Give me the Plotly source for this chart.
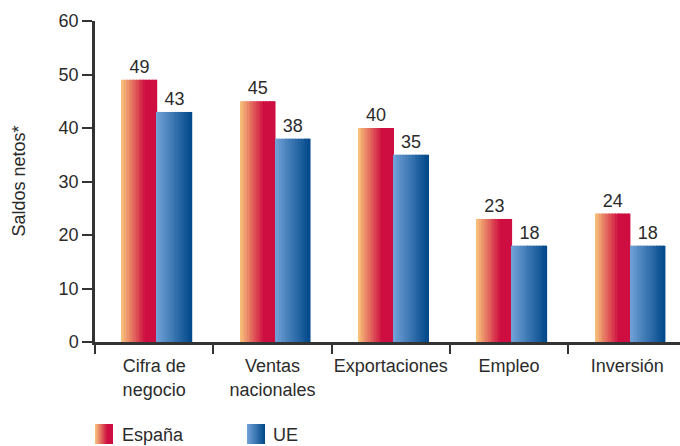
import base64
import plotly.graph_objects as go

# ---- data ----
categorias = ["Cifra de negocio", "Ventas nacionales", "Exportaciones", "Empleo", "Inversión"]
etiquetas_x = ["Cifra de<br>negocio", "Ventas<br>nacionales", "Exportaciones", "Empleo", "Inversión"]
espana = [49, 45, 40, 23, 24]
ue = [43, 38, 35, 18, 18]
series_nombres = ["España", "UE"]
y_ticks = [0, 10, 20, 30, 40, 50, 60]

# ---- style ----
FONT = "Liberation Sans, Arial, sans-serif"
TXT = "#2b2b2b"
AX = "#333333"
FS = 18
N = 24
BAR_W = 0.296
OFF_ES = -0.272
OFF_UE = 0.024

ES_C0, ES_C1, ES_STOP = (248, 197, 124), (206, 14, 64), 0.68
UE_C0, UE_C1, UE_STOP = (114, 162, 216), (0, 72, 138), 1.0


def lerp(c0, c1, t):
    return "rgb(%d,%d,%d)" % tuple(round(a + (b - a) * t) for a, b in zip(c0, c1))


fig = go.Figure()


def add_gradient_bars(values, off, c0, c1, stop, name):
    sw = BAR_W / N
    for i in range(N):
        t = (i + 0.5) / N
        tt = min(t / stop, 1.0)
        fig.add_trace(go.Bar(
            x=categorias, y=values, name=name, showlegend=False,
            offset=off + i * sw, width=sw * 1.15,
            marker=dict(color=lerp(c0, c1, tt), line=dict(width=0)),
            hoverinfo="skip",
        ))
    # label trace (transparent)
    fig.add_trace(go.Bar(
        x=categorias, y=values, name=name, showlegend=False,
        offset=off, width=BAR_W,
        marker=dict(color="rgba(0,0,0,0)", line=dict(width=0)),
        text=[str(v) for v in values], textposition="outside",
        textfont=dict(family=FONT, size=FS, color=TXT),
        cliponaxis=False,
    ))


add_gradient_bars(espana, OFF_ES, ES_C0, ES_C1, ES_STOP, series_nombres[0])
add_gradient_bars(ue, OFF_UE, UE_C0, UE_C1, UE_STOP, series_nombres[1])


def swatch(c0, c1, stop):
    svg = (
        '<svg xmlns="http://www.w3.org/2000/svg" width="18" height="20">'
        '<defs><linearGradient id="g" x1="0" x2="1" y1="0" y2="0">'
        f'<stop offset="0" stop-color="{lerp(c0, c1, 0)}"/>'
        f'<stop offset="{stop}" stop-color="{lerp(c0, c1, 1)}"/>'
        f'<stop offset="1" stop-color="{lerp(c0, c1, 1)}"/>'
        '</linearGradient></defs><rect width="18" height="20" fill="url(#g)"/></svg>'
    )
    return "data:image/svg+xml;base64," + base64.b64encode(svg.encode()).decode()


PL, PT, PW, PH = 95, 21, 585, 321


def px2x(px):
    return (px - PL) / PW


def py2y(py):
    return (PT + PH - py) / PH


images = []
for (c0, c1, stop), xpx in [((ES_C0, ES_C1, ES_STOP), 95), ((UE_C0, UE_C1, UE_STOP), 247)]:
    images.append(dict(
        source=swatch(c0, c1, stop), xref="paper", yref="paper",
        x=px2x(xpx), y=py2y(424), sizex=18 / PW, sizey=20 / PH,
        xanchor="left", yanchor="top", sizing="stretch", layer="above",
    ))

annotations = [
    dict(text=series_nombres[0], xref="paper", yref="paper", x=px2x(120), y=py2y(435),
         xanchor="left", yanchor="middle", showarrow=False,
         font=dict(family=FONT, size=FS, color=TXT)),
    dict(text=series_nombres[1], xref="paper", yref="paper", x=px2x(271), y=py2y(435),
         xanchor="left", yanchor="middle", showarrow=False,
         font=dict(family=FONT, size=FS, color=TXT)),
    dict(text="Saldos netos*", xref="paper", yref="paper", x=px2x(18), y=0.5,
         xanchor="center", yanchor="middle", textangle=-90, showarrow=False,
         font=dict(family=FONT, size=FS, color=TXT)),
]

fig.update_layout(
    width=680, height=446,
    margin=dict(l=PL, r=0, t=PT, b=446 - PT - PH),
    barmode="overlay",
    plot_bgcolor="white", paper_bgcolor="white",
    showlegend=False,
    images=images,
    annotations=annotations,
    xaxis=dict(
        type="category", categoryorder="array", categoryarray=categorias,
        tickmode="array", tickvals=categorias, ticktext=etiquetas_x,
        range=[-0.5, 4.445], tickson="boundaries", ticks="outside", ticklen=9,
        tickwidth=2, tickcolor=AX, ticklabelstandoff=6, tickangle=0,
        showline=True, linecolor=AX, linewidth=2.5, showgrid=False, zeroline=False,
        tickfont=dict(family=FONT, size=FS, color=TXT), automargin=False,
    ),
    yaxis=dict(
        range=[0, 60], tickmode="array", tickvals=y_ticks,
        ticks="outside", ticklen=10, tickwidth=2, tickcolor=AX,
        showline=True, linecolor=AX, linewidth=2.5, showgrid=False, zeroline=False,
        tickfont=dict(family=FONT, size=FS, color=TXT), automargin=False,
    ),
)

fig.write_html("out.html", config={"displayModeBar": False},
               post_script="document.body.style.margin='0';")
